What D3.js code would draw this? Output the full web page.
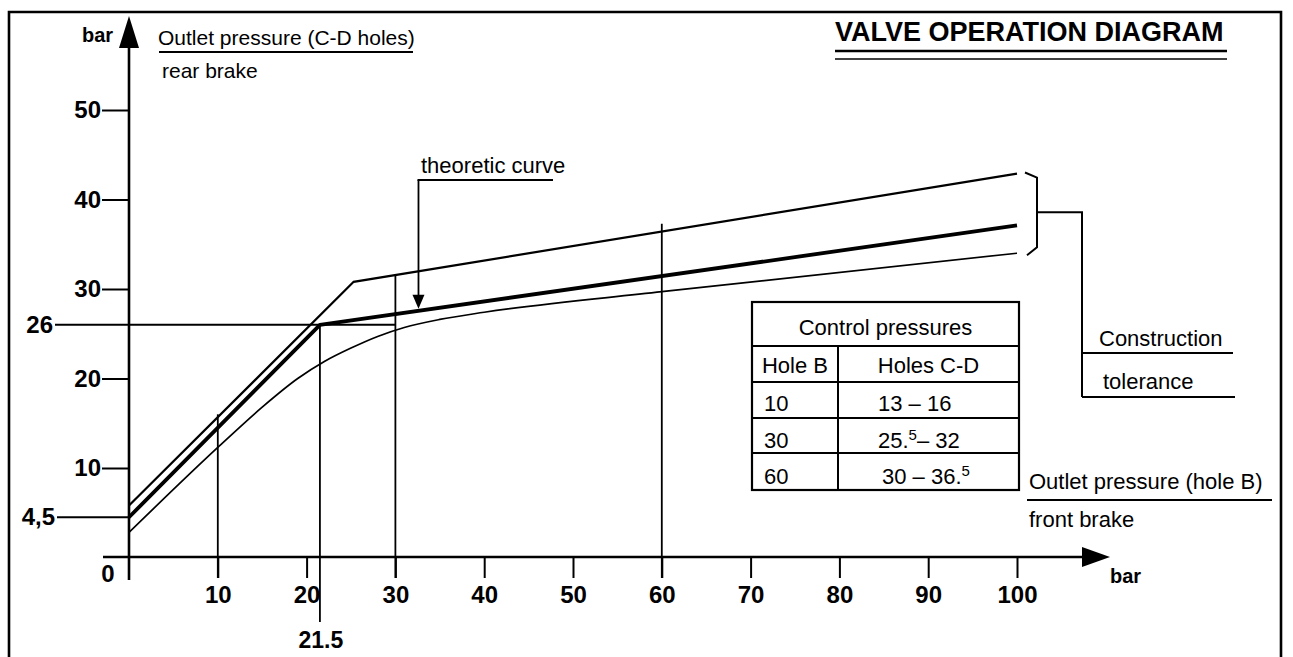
<!DOCTYPE html>
<html><head><meta charset="utf-8">
<script src="https://cdn.jsdelivr.net/npm/d3@7"></script>
<style>
body{margin:0;background:#fff}
svg{display:block}
text{font-family:"Liberation Sans",Arial,Helvetica,sans-serif;fill:#000}
</style>
</head><body>
<svg id="c" width="1293" height="657"></svg>
<script>
// ---------- data ----------
const xTicks = [10, 20, 30, 40, 50, 60, 70, 80, 90, 100];
const yTicks = [10, 20, 30, 40, 50];
const theoretic = [[0, 4.5], [21.5, 26], [100, 37.1]];
const upperTol = [[0, 5.8], [25.3, 30.8], [100, 42.9]];
const lowerTol = [[0, 2.8], [10, 12.3], [15, 16.8], [19, 20], [22, 21.9], [25, 23.4], [28, 24.7], [31, 25.7], [35, 26.6], [40, 27.4], [60, 29.7], [100, 34]];
const markX = [10, 21.5, 30, 60];
const markTop = [16, 26, 31.6, 37.3];
const refLevels = [26, 4.5];
const refLabels = ["26", "4,5"];
const refLineTo = [30, 0];
const tableTitle = "Control pressures";
const tableCols = ["Hole B", "Holes C-D"];
const holeB = ["10", "30", "60"];
const holesCDmain = ["13 \u2013 16", "25.", "30 \u2013 36."];
const holesCDsup = ["", "5", "5"];
const holesCDrest = ["", "\u2013 32", ""];
const theoArrowAt = 32.6;

// ---------- setup ----------
const svg = d3.select("#c");
const x = d3.scaleLinear().domain([0, 100]).range([129, 1017]);
const y = d3.scaleLinear().domain([0, 50]).range([557.5, 110]);
const X0 = 557; // x-axis pixel row

// frame
svg.append("path").attr("d", "M9,670V12H1281V670")
  .attr("fill", "none").attr("stroke", "#000").attr("stroke-width", 2.6);

// ---------- axes ----------
const gx = svg.append("g").attr("transform", `translate(0,${X0})`)
  .call(d3.axisBottom(x).tickValues(xTicks).tickSize(21).tickPadding(8).tickFormat(d3.format("d")));
gx.select(".domain").remove();
gx.selectAll(".tick line").attr("stroke", "#000").attr("stroke-width", 2);
gx.selectAll(".tick text").attr("font-size", 24).attr("font-weight", "bold").attr("fill", "#000")
  .attr("font-family", "Liberation Sans, Arial, sans-serif");

const gy = svg.append("g").attr("transform", `translate(${x(0)},0)`)
  .call(d3.axisLeft(y).tickValues(yTicks).tickSize(27).tickPadding(1).tickFormat(d3.format("d")));
gy.select(".domain").remove();
gy.selectAll(".tick line").attr("stroke", "#000").attr("stroke-width", 2);
gy.selectAll(".tick text").attr("font-size", 24).attr("font-weight", "bold").attr("fill", "#000")
  .attr("font-family", "Liberation Sans, Arial, sans-serif");

// axis lines + arrows
svg.append("line").attr("x1", 103).attr("x2", 1086).attr("y1", X0).attr("y2", X0)
  .attr("stroke", "#000").attr("stroke-width", 2.6);
svg.append("path").attr("d", `M1110,${X0}L1082,${X0 - 10}L1082,${X0 + 10}Z`).attr("fill", "#000");
svg.append("line").attr("x1", x(0)).attr("x2", x(0)).attr("y1", 580).attr("y2", 44)
  .attr("stroke", "#000").attr("stroke-width", 2.6);
svg.append("path").attr("d", `M${x(0)},16L${x(0) - 10},48L${x(0) + 10},48Z`).attr("fill", "#000");

svg.append("text").attr("x", 1110).attr("y", 583).attr("font-size", 20).attr("font-weight", "bold").text("bar");
svg.append("text").attr("x", 82).attr("y", 42).attr("font-size", 20).attr("font-weight", "bold").text("bar");
svg.append("text").attr("x", 108).attr("y", 582).attr("text-anchor", "middle")
  .attr("font-size", 24).attr("font-weight", "bold").text("0");

// reference levels 26 and 4,5
refLevels.forEach((v, i) => {
  const lx = i === 0 ? 55 : 57;
  svg.append("line").attr("x1", lx).attr("x2", x(refLineTo[i])).attr("y1", y(v)).attr("y2", y(v))
    .attr("stroke", "#000").attr("stroke-width", 2);
  svg.append("text").attr("x", lx - 2).attr("y", y(v)).attr("dy", "0.34em").attr("text-anchor", "end")
    .attr("font-size", 24).attr("font-weight", "bold").text(refLabels[i]);
});

// vertical marker lines
markX.forEach((v, i) => {
  svg.append("line").attr("x1", x(v)).attr("x2", x(v)).attr("y1", y(markTop[i]))
    .attr("y2", v === 21.5 ? 622 : X0 + 21)
    .attr("stroke", "#000").attr("stroke-width", 1.8);
});
svg.append("text").attr("x", x(21.5) + 1).attr("y", 648).attr("text-anchor", "middle")
  .attr("font-size", 23).attr("font-weight", "bold").text("21.5");

// ---------- curves ----------
const line = d3.line().x(d => x(d[0])).y(d => y(d[1]));
svg.append("path").datum(upperTol).attr("d", line).attr("fill", "none").attr("stroke", "#000").attr("stroke-width", 2.2);
svg.append("path").datum(lowerTol).attr("d", line.curve(d3.curveMonotoneX)).attr("fill", "none").attr("stroke", "#000").attr("stroke-width", 1.7);
svg.append("path").datum(theoretic).attr("d", d3.line().x(d => x(d[0])).y(d => y(d[1]))).attr("fill", "none")
  .attr("stroke", "#000").attr("stroke-width", 3.8).attr("stroke-linejoin", "round");

// theoretic curve label + arrow
const theoY = v => {
  const a = theoretic[1], b = theoretic[2];
  return a[1] + (v - a[0]) * (b[1] - a[1]) / (b[0] - a[0]);
};
const ax = x(theoArrowAt), ay = y(theoY(theoArrowAt)) - 2;
svg.append("text").attr("x", 421).attr("y", 173).attr("font-size", 22).text("theoretic curve");
svg.append("line").attr("x1", ax - 1).attr("x2", 553).attr("y1", 180).attr("y2", 180).attr("stroke", "#000").attr("stroke-width", 1.8);
svg.append("line").attr("x1", ax).attr("x2", ax).attr("y1", 180).attr("y2", ay - 10).attr("stroke", "#000").attr("stroke-width", 1.8);
svg.append("path").attr("d", `M${ax},${ay}L${ax - 6},${ay - 14}L${ax + 6},${ay - 14}Z`).attr("fill", "#000");

// ---------- tolerance bracket ----------
const bx = x(100);
const yU = y(upperTol[2][1]), yL = y(lowerTol[lowerTol.length - 1][1]);
svg.append("path").attr("d", `M${bx + 8},${yU - 1}L${bx + 20},${yU + 4}V${yL - 6}L${bx + 10},${yL + 2}`)
  .attr("fill", "none").attr("stroke", "#000").attr("stroke-width", 2);
const ym = (yU + yL) / 2 - 1;
svg.append("path").attr("d", `M${bx + 20},${ym}H1082V397`).attr("fill", "none").attr("stroke", "#000").attr("stroke-width", 2);
svg.append("line").attr("x1", 1082).attr("x2", 1233).attr("y1", 353).attr("y2", 353).attr("stroke", "#000").attr("stroke-width", 2);
svg.append("line").attr("x1", 1082).attr("x2", 1235).attr("y1", 397).attr("y2", 397).attr("stroke", "#000").attr("stroke-width", 2);
svg.append("text").attr("x", 1099).attr("y", 346).attr("font-size", 22).text("Construction");
svg.append("text").attr("x", 1103).attr("y", 389).attr("font-size", 22).text("tolerance");

// ---------- axis titles ----------
svg.append("text").attr("x", 158).attr("y", 45).attr("font-size", 21).text("Outlet pressure (C-D holes)");
svg.append("line").attr("x1", 159).attr("x2", 413).attr("y1", 52).attr("y2", 52).attr("stroke", "#000").attr("stroke-width", 2);
svg.append("text").attr("x", 162).attr("y", 78).attr("font-size", 21).text("rear brake");

svg.append("text").attr("x", 1029).attr("y", 489).attr("font-size", 22).text("Outlet pressure (hole B)");
svg.append("line").attr("x1", 1027).attr("x2", 1272).attr("y1", 500).attr("y2", 500).attr("stroke", "#000").attr("stroke-width", 2);
svg.append("text").attr("x", 1029).attr("y", 527).attr("font-size", 22).text("front brake");

// title
svg.append("text").attr("x", 835).attr("y", 41).attr("font-size", 27).attr("font-weight", "bold").text("VALVE OPERATION DIAGRAM");
svg.append("line").attr("x1", 835).attr("x2", 1227).attr("y1", 51).attr("y2", 51).attr("stroke", "#000").attr("stroke-width", 2.4);
svg.append("line").attr("x1", 835).attr("x2", 1227).attr("y1", 59).attr("y2", 59).attr("stroke", "#000").attr("stroke-width", 1.6);

// ---------- table ----------
const tL = 752, tM = 838, tR = 1019;
const rowY = [302, 346, 382, 418, 453, 490];
const tg = svg.append("g");
tg.append("rect").attr("x", tL).attr("y", rowY[0]).attr("width", tR - tL).attr("height", rowY[5] - rowY[0])
  .attr("fill", "#fff").attr("stroke", "#000").attr("stroke-width", 2.2);
rowY.slice(1, 5).forEach(ry => tg.append("line").attr("x1", tL).attr("x2", tR).attr("y1", ry).attr("y2", ry).attr("stroke", "#000").attr("stroke-width", 2));
tg.append("line").attr("x1", tM).attr("x2", tM).attr("y1", rowY[1]).attr("y2", rowY[5]).attr("stroke", "#000").attr("stroke-width", 2);
tg.append("text").attr("x", (tL + tR) / 2).attr("y", 335).attr("text-anchor", "middle").attr("font-size", 22).text(tableTitle);
tg.append("text").attr("x", (tL + tM) / 2).attr("y", 373).attr("text-anchor", "middle").attr("font-size", 22).text(tableCols[0]);
tg.append("text").attr("x", (tM + tR) / 2).attr("y", 373).attr("text-anchor", "middle").attr("font-size", 22).text(tableCols[1]);
const rowBase = [411, 448, 484];
holeB.forEach((v, i) => {
  tg.append("text").attr("x", 764).attr("y", rowBase[i]).attr("font-size", 22).text(v);
  const t = tg.append("text").attr("x", i === 2 ? 882 : 878).attr("y", rowBase[i]).attr("font-size", 22);
  t.append("tspan").text(holesCDmain[i]);
  if (holesCDsup[i]) t.append("tspan").attr("dy", -8).attr("font-size", 15).text(holesCDsup[i]);
  if (holesCDrest[i]) t.append("tspan").attr("dy", 8).text(holesCDrest[i]);
});
</script>
</body></html>
